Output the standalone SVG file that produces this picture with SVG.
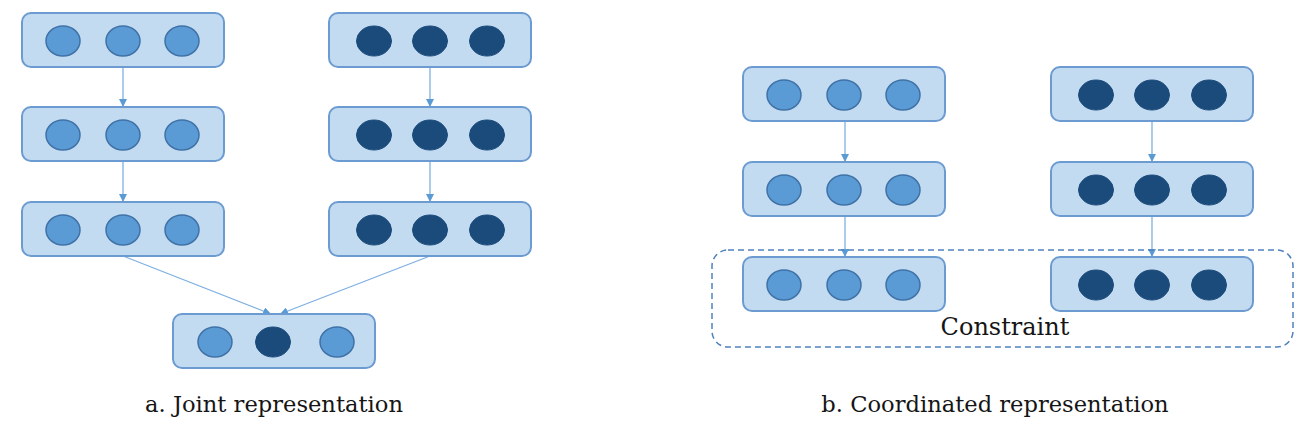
<svg xmlns="http://www.w3.org/2000/svg" width="1313" height="439" viewBox="0 0 1313 439">
<style>
.box{fill:#c3dbf1;stroke:#6b9bd0;stroke-width:2}
.lc{fill:#5b9bd5;stroke:#3f72a6;stroke-width:1.5}
.dc{fill:#1b4b7b;stroke:#1b4b7b;stroke-width:1}
.conn{stroke:#7fb0e2;stroke-width:1.3;fill:none}
text{font-family:'DejaVu Serif','Liberation Serif',serif;font-size:22.6px;fill:#151515}
.con{font-size:24px}
</style>
<defs>
<marker id="ah" viewBox="0 0 10 10" refX="10" refY="5" markerWidth="8" markerHeight="8" markerUnits="userSpaceOnUse" orient="auto">
<path d="M0,0 L10,5 L0,10 Z" fill="#5b9bd5"/>
</marker>
<g id="light3">
<rect class="box" x="0" y="0" width="202" height="54" rx="9"/>
<ellipse class="lc" cx="41" cy="28" rx="17" ry="15"/>
<ellipse class="lc" cx="101" cy="28" rx="17" ry="15"/>
<ellipse class="lc" cx="160" cy="28" rx="17" ry="15"/>
</g>
<g id="dark3">
<rect class="box" x="0" y="0" width="202" height="54" rx="9"/>
<ellipse class="dc" cx="45" cy="28" rx="17.5" ry="15"/>
<ellipse class="dc" cx="101" cy="28" rx="17.5" ry="15"/>
<ellipse class="dc" cx="158" cy="28" rx="17.5" ry="15"/>
</g>
</defs>
<g id="connectors">
<line class="conn" x1="123" y1="67" x2="123" y2="107" marker-end="url(#ah)"/>
<line class="conn" x1="123" y1="161" x2="123" y2="202" marker-end="url(#ah)"/>
<line class="conn" x1="430" y1="67" x2="430" y2="107" marker-end="url(#ah)"/>
<line class="conn" x1="430" y1="161" x2="430" y2="202" marker-end="url(#ah)"/>
<line class="conn" x1="123" y1="256" x2="271" y2="314" marker-end="url(#ah)"/>
<line class="conn" x1="430" y1="256" x2="280" y2="314" marker-end="url(#ah)"/>
<line class="conn" x1="845" y1="121" x2="845" y2="162" marker-end="url(#ah)"/>
<line class="conn" x1="845" y1="216" x2="845" y2="257" marker-end="url(#ah)"/>
<line class="conn" x1="1152" y1="121" x2="1152" y2="162" marker-end="url(#ah)"/>
<line class="conn" x1="1152" y1="216" x2="1152" y2="257" marker-end="url(#ah)"/>
</g>
<g id="a-l1"><use href="#light3" x="22" y="13"/></g>
<g id="a-l2"><use href="#light3" x="22" y="107"/></g>
<g id="a-l3"><use href="#light3" x="22" y="202"/></g>
<g id="a-r1"><use href="#dark3" x="329" y="13"/></g>
<g id="a-r2"><use href="#dark3" x="329" y="107"/></g>
<g id="a-r3"><use href="#dark3" x="329" y="202"/></g>
<g id="a-joint">
<rect class="box" x="173" y="314" width="202" height="54" rx="9"/>
<ellipse class="lc" cx="215" cy="342" rx="17" ry="15"/>
<ellipse class="dc" cx="273" cy="342" rx="17.5" ry="15"/>
<ellipse class="lc" cx="337" cy="342" rx="17" ry="15"/>
</g>
<g id="b-constraint">
<rect x="712" y="250" width="581" height="97" rx="16" fill="none" stroke="#4f81bd" stroke-width="1.5" stroke-dasharray="6 4"/>
<text class="con" x="1005" y="335" text-anchor="middle">Constraint</text>
</g>
<g id="b-l1"><use href="#light3" x="743" y="67"/></g>
<g id="b-l2"><use href="#light3" x="743" y="162"/></g>
<g id="b-l3"><use href="#light3" x="743" y="257"/></g>
<g id="b-r1"><use href="#dark3" x="1051" y="67"/></g>
<g id="b-r2"><use href="#dark3" x="1051" y="162"/></g>
<g id="b-r3"><use href="#dark3" x="1051" y="257"/></g>
<text x="274" y="412" text-anchor="middle">a. Joint representation</text>
<text x="995" y="412" text-anchor="middle">b. Coordinated representation</text>
</svg>
